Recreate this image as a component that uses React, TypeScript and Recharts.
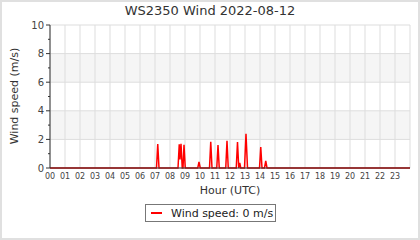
import React from 'react'
import { LineChart, Line, XAxis, YAxis, CartesianGrid, Legend } from 'recharts'

// sample times (UTC) and wind speeds
const times = [
  '00:00', '07:06', '07:11', '07:16', '08:32', '08:37', '08:40', '08:44', '08:49',
  '08:52', '08:56', '09:01', '09:51', '09:56', '10:01', '10:38', '10:43', '10:48',
  '11:07', '11:12', '11:17', '11:43', '11:48', '11:53', '12:25', '12:30', '12:35',
  '12:39', '12:43', '12:58', '13:04', '13:10', '13:58', '14:03', '14:08', '14:18',
  '14:23', '14:28', '24:00'
]
const speeds = [
  0, 0, 1.68, 0, 0, 1.65, 0.6, 1.7, 0,
  0, 1.63, 0, 0, 0.42, 0, 0, 1.84, 0,
  0, 1.6, 0, 0, 1.9, 0, 0, 1.82, 0,
  0.35, 0, 0, 2.4, 0, 0, 1.47, 0, 0,
  0.5, 0, 0
]
const hourTicks = [0, 1, 2, 3, 4, 5, 6, 7, 8, 9, 10, 11, 12, 13, 14, 15, 16, 17, 18, 19, 20, 21, 22, 23]
const speedTicks = [0, 1, 2, 3, 4, 5, 6, 7, 8, 9, 10]
const majorSpeedTicks = [0, 2, 4, 6, 8, 10]
const SPEED_MAX = 10

const FONT = '"DejaVu Sans", sans-serif'

const toHours = (t: string) => {
  const [h, m] = t.split(':').map(Number)
  return h + m / 60
}

const data = times.map((t, i) => ({ hour: toHours(t), wind: speeds[i] }))

// grid only on the even speeds, odd ones are minor ticks
const evenRows = ({ yAxis, offset }: any) => {
  const s = yAxis?.scale
  if (typeof s === 'function') return majorSpeedTicks.map(v => s(v))
  if (s && typeof s.map === 'function') return majorSpeedTicks.map(v => s.map(v))
  const top = offset?.top ?? 25
  const h = offset?.height ?? 143
  return majorSpeedTicks.map(v => top + h * (1 - v / SPEED_MAX))
}

const YTick = ({ x, y, payload }: any) => {
  const major = payload.value % 2 === 0
  return (
    <g>
      <line x1={x - (major ? 4 : 2)} x2={x} y1={y} y2={y} stroke="#333" strokeWidth={1} />
      {major && (
        <text x={x - 6} y={y} dy="0.35em" textAnchor="end" fontSize={10} fill="#444" fontFamily={FONT}>
          {payload.value}
        </text>
      )}
    </g>
  )
}

const XTick = ({ x, y, payload }: any) => (
  <text x={x} y={y + 11} textAnchor="middle" fontSize={8} fill="#444" fontFamily={FONT}>
    {String(payload.value).padStart(2, '0')}
  </text>
)

const YLabel = () => (
  <text transform="translate(14,96) rotate(-90)" textAnchor="middle" dy="0.35em" fontSize={11} fill="#333" fontFamily={FONT}>
    Wind speed (m/s)
  </text>
)

const WindLegend = () => (
  <div
    style={{
      boxSizing: 'border-box',
      width: 131,
      height: 18,
      border: '1px solid #777',
      background: '#fff',
      display: 'flex',
      alignItems: 'center',
      fontFamily: FONT,
      fontSize: 11,
      color: '#222'
    }}
  >
    <span style={{ display: 'inline-block', width: 11, height: 2, background: '#ff0000', marginLeft: 5, marginRight: 9 }} />
    Wind speed: 0 m/s
  </div>
)

export default function App() {
  return (
    <div style={{ position: 'absolute', left: 0, top: 0, width: 420, height: 240, background: '#fff' }}>
      <div
        style={{
          position: 'absolute',
          left: 0,
          top: 3,
          width: 420,
          textAlign: 'center',
          fontFamily: FONT,
          fontSize: 13,
          color: '#333'
        }}
      >
        WS2350 Wind 2022-08-12
      </div>
      {/* bottom margin leaves room for the 18px legend, which recharts adds on top */}
      <LineChart width={420} height={240} data={data} margin={{ top: 25, right: 10, bottom: 24, left: 20 }}>
        <CartesianGrid
          stroke="#dddddd"
          horizontalFill={['#ffffff', '#000000']}
          fillOpacity={0.04}
          horizontalCoordinatesGenerator={evenRows}
        />
        <XAxis
          dataKey="hour"
          type="number"
          domain={[0, 24]}
          ticks={hourTicks}
          interval={0}
          tick={<XTick />}
          tickLine={false}
          tickSize={0}
          tickMargin={0}
          stroke="#333"
          height={30}
          label={{ value: 'Hour (UTC)', position: 'insideBottom', offset: 4, fontSize: 11, fill: '#333', fontFamily: FONT }}
        />
        <YAxis
          type="number"
          domain={[0, SPEED_MAX]}
          ticks={speedTicks}
          interval={0}
          width={30}
          tick={<YTick />}
          tickLine={false}
          tickSize={0}
          tickMargin={0}
          stroke="#333"
          label={<YLabel />}
        />
        <Line
          type="linear"
          dataKey="wind"
          name="Wind speed"
          stroke="#ff0000"
          strokeWidth={1.5}
          dot={false}
          activeDot={false}
          isAnimationActive={false}
        />
        <Legend
          content={<WindLegend />}
          wrapperStyle={{ position: 'absolute', left: 145, top: 204, width: 131, height: 18 }}
        />
      </LineChart>
      <div
        style={{
          position: 'absolute',
          left: 0,
          top: 0,
          width: 420,
          height: 240,
          boxSizing: 'border-box',
          border: '2px solid #e0e0e0',
          pointerEvents: 'none'
        }}
      />
    </div>
  )
}
